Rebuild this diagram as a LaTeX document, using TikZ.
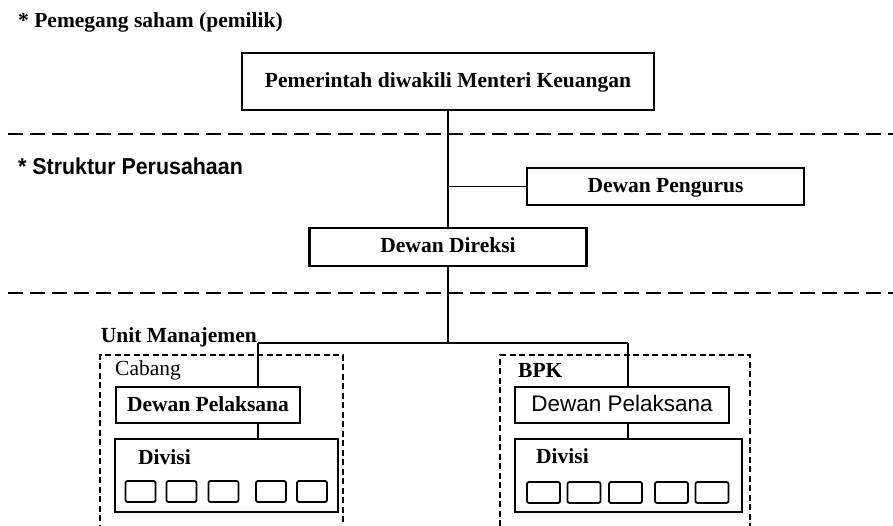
\documentclass[tikz,border=0pt]{standalone}
\usepackage{fontspec}
\setmainfont{Liberation Serif}
\setsansfont{Liberation Sans}
\newcommand\figfont{\fontsize{21.5}{24}\selectfont}
\begin{document}
\begin{tikzpicture}[x=1pt,y=-1pt,
  box/.style={draw, line width=2.2pt, inner sep=0pt, text height=15pt, text depth=3pt,
              font=\figfont\bfseries},
  group/.style={draw, line width=2.2pt, dash pattern=on 6pt off 3.5pt, inner sep=0pt},
  cell/.style={draw, line width=1.8pt, rounded corners=2pt, inner sep=0pt,
               minimum height=21pt},
  sep/.style={line width=1.8pt, dash pattern=on 15pt off 7pt},
  trunk/.style={line width=2.5pt},
  branch/.style={line width=1.4pt},
  lbl/.style={inner sep=0pt, font=\figfont\bfseries}]

% page area
\clip (0,0) rectangle (893,526);
\fill[white] (0,0) rectangle (893,526);

% section headings
\node[lbl, anchor=base west] (hsaham) at (18,28) {* Pemegang saham (pemilik)};
\node[inner sep=0pt, anchor=base west, font=\fontsize{23}{26}\selectfont\sffamily\bfseries]
  (hstruktur) at (18,175) {\scalebox{0.93}[1]{* Struktur Perusahaan}};

% section separators
\coordinate (s1a) at (8,134);   \coordinate (s1b) at (893,134);
\coordinate (s2a) at (8,293);   \coordinate (s2b) at (893,293);
\draw[sep] (s1a) -- (s1b);
\draw[sep] (s2a) -- (s2b);

% top level boxes
\node[box, minimum width=412pt, minimum height=57pt] (gov) at (448,81.5)
  {Pemerintah diwakili Menteri Keuangan};
\node[box, minimum width=277pt, minimum height=37pt] (pengurus) at (665.5,186.5)
  {Dewan Pengurus};
\node[box, minimum width=277pt, minimum height=38pt] (direksi) at (448,247)
  {Dewan Direksi};

% management units
\node[lbl, anchor=base east] (unit) at (257,342) {Unit Manajemen};
\node[group, minimum width=243pt, minimum height=190pt] (cabang) at (221.5,450) {};
\node[group, minimum width=250pt, minimum height=190pt] (bpk) at (625,450) {};
\node[inner sep=0pt, anchor=base west, font=\figfont] (tcabang) at (115,375) {Cabang};
\node[lbl, anchor=base west] (tbpk) at (518,377) {BPK};

% executive boards
\node[box, minimum width=184pt, minimum height=36pt] (lpel) at (208,405)
  {Dewan Pelaksana};
\node[box, minimum width=214pt, minimum height=36pt,
      font=\fontsize{22.5}{25}\selectfont\sffamily] (rpel) at (622,405)
  {Dewan Pelaksana};

% divisions
\node[draw, line width=2pt, inner sep=0pt, minimum width=223pt, minimum height=73pt]
  (ldiv) at (226.5,475.5) {};
\node[draw, line width=2pt, inner sep=0pt, minimum width=227pt, minimum height=73pt]
  (rdiv) at (628.5,475.5) {};
\node[lbl, anchor=base west] (tldiv) at (138,464) {Divisi};
\node[lbl, anchor=base west] (trdiv) at (536,463) {Divisi};

\foreach \i/\x in {1/140.5, 2/181.5, 3/223.5, 4/271, 5/312}
  \node[cell, minimum width=30pt] (lc\i) at (\x,491.5) {};
\foreach \i/\x in {1/543.5, 2/584, 3/625.5, 4/671.5, 5/712}
  \node[cell, minimum width=33pt] (rc\i) at (\x,492.5) {};

% connectors
\coordinate (mj) at (448,343);
\coordinate (lj) at (258,343);
\coordinate (rj) at (628,343);
\draw[trunk] (gov.south) -- (direksi.north);
\draw[trunk] (direksi.south) -- (mj);
\draw[branch] (pengurus.west) -- (pengurus.west -| gov.south);
\draw[branch] (lj) -- (rj);
\draw[trunk] (lj) -- (lj |- lpel.north);
\draw[trunk] (lj |- lpel.south) -- (lj |- ldiv.north);
\draw[trunk] (rj) -- (rj |- rpel.north);
\draw[trunk] (rj |- rpel.south) -- (rj |- rdiv.north);
\end{tikzpicture}
\end{document}
